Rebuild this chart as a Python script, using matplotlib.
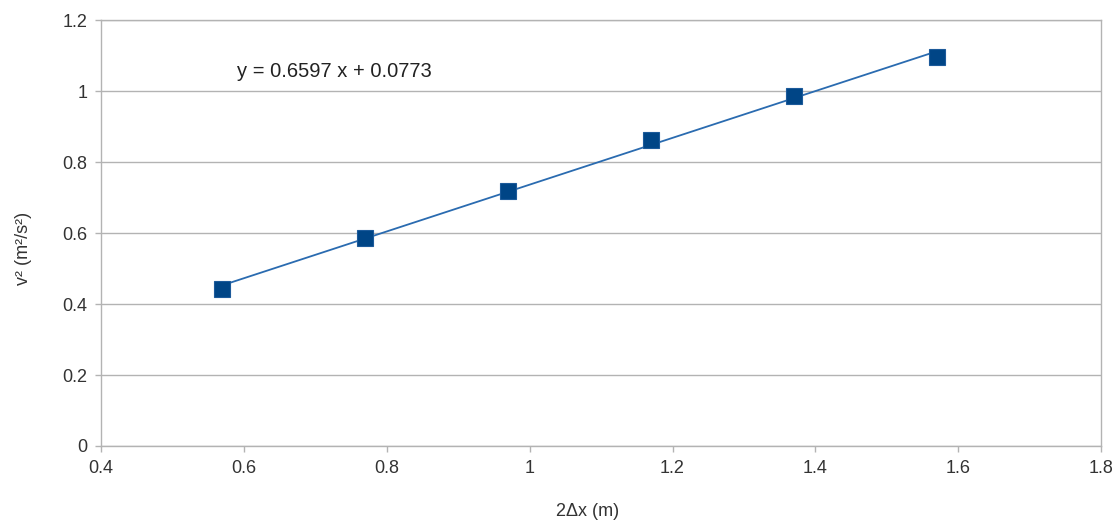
#!/usr/bin/env python3
# -*- coding: utf-8 -*-

"""v^2 vs 2*dx scatter with linear trendline."""

import matplotlib
matplotlib.use("Agg", force=True)

import numpy as np
import matplotlib.pyplot as plt

# -----------------------------
# Data
# -----------------------------

two_dx = [0.57, 0.77, 0.97, 1.17, 1.37, 1.57]
v_sq = [0.443, 0.587, 0.720, 0.864, 0.988, 1.098]

slope = 0.6597
intercept = 0.0773

x_ticks = [0.4, 0.6, 0.8, 1.0, 1.2, 1.4, 1.6, 1.8]
x_tick_labels = ["0.4", "0.6", "0.8", "1", "1.2", "1.4", "1.6", "1.8"]
y_ticks = [0, 0.2, 0.4, 0.6, 0.8, 1.0, 1.2]
y_tick_labels = ["0", "0.2", "0.4", "0.6", "0.8", "1", "1.2"]

plt.rcParams["font.family"] = ["Liberation Sans", "DejaVu Sans"]

TXT = "#333333"
GRID = "#b3b3b3"


def main() -> None:
    fig = plt.figure(figsize=(11.19, 5.25), dpi=100)
    ax = fig.add_axes([0.0903, 0.1505, 0.8937, 0.8105])

    xs = np.array(two_dx)
    fit = slope * xs + intercept
    ax.plot(xs, fit, color="#2a6bb0", linewidth=1.3, zorder=3)
    ax.plot(two_dx, v_sq, linestyle="none", marker="s", markersize=11.5,
            markerfacecolor="#004586", markeredgecolor="#1c5a9a",
            markeredgewidth=0.8, zorder=4)

    ax.set_xlim(0.4, 1.8)
    ax.set_ylim(0, 1.2)
    ax.set_xticks(x_ticks)
    ax.set_xticklabels(x_tick_labels)
    ax.set_yticks(y_ticks)
    ax.set_yticklabels(y_tick_labels)

    ax.yaxis.grid(True, color=GRID, linewidth=1.0)
    ax.set_axisbelow(True)
    for s in ax.spines.values():
        s.set_color(GRID)
        s.set_linewidth(1.0)
    ax.tick_params(direction="out", length=4, width=1.0, color=GRID,
                   labelcolor=TXT, labelsize=13, pad=6)

    ax.text(0.59, 1.056,
            f"y = {slope:.4f} x + {intercept:.4f}",
            fontsize=14.5, color="#222222", ha="left", va="center")

    ax.set_xlabel("2Δx (m)", fontsize=13, color=TXT)
    ax.set_ylabel("v² (m²/s²)", fontsize=13, color=TXT)
    # labels sit a bit off-centre in the original
    ax.xaxis.set_label_coords(0.486, -0.134)
    ax.yaxis.set_label_coords(-0.0695, 0.465)

    fig.savefig("out.png", dpi=100)
    plt.close(fig)


if __name__ == "__main__":
    main()
